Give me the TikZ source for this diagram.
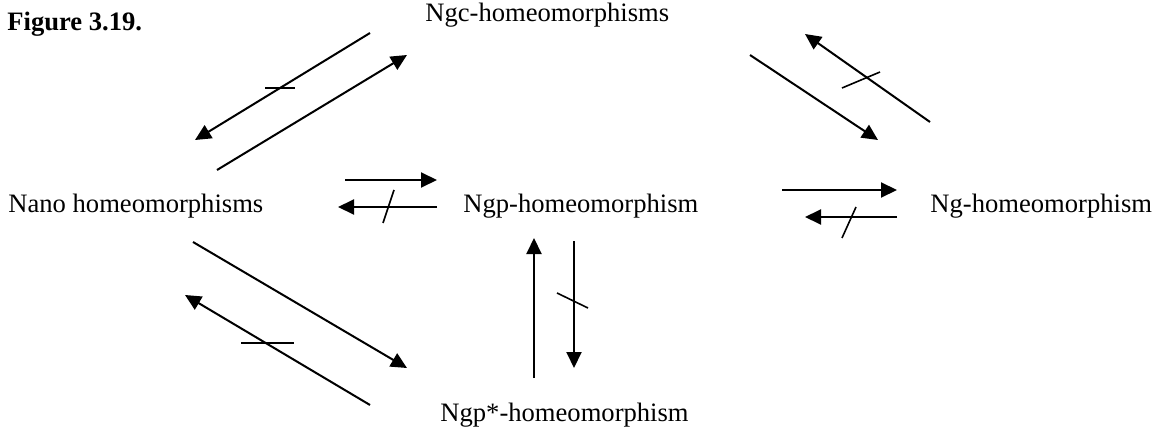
\documentclass[tikz,border=0pt]{standalone}
\usepackage{fontspec}
\setmainfont{Liberation Serif}
\usetikzlibrary{arrows.meta}
\begin{document}
\begin{tikzpicture}[x=0.5pt,y=-0.5pt,
  lbl/.style={inner sep=0pt,anchor=base west,font=\fontsize{13.3}{16}\selectfont},
  arr/.style={line width=1pt,-{Triangle[length=8pt,width=7.5pt]}},
  tick/.style={line width=0.8pt}]
\useasboundingbox (0,0) rectangle (1157,433);
% labels
\node[lbl,font=\fontsize{13.3}{16}\selectfont\bfseries] (fig) at (7,31) {Figure 3.19.};
\node[lbl] (nano) at (8,213) {Nano homeomorphisms};
\node[lbl] (ngc) at (425,22) {Ngc-homeomorphisms};
\node[lbl] (ngp) at (463,213) {Ngp-homeomorphism};
\node[lbl] (ng) at (930,213) {Ng-homeomorphism};
\node[lbl] (ngps) at (440,421) {Ngp*-homeomorphism};
% arrow end coordinates
\coordinate (a1s) at (370,33);  \coordinate (a1e) at (195,140);
\coordinate (a2s) at (217,170); \coordinate (a2e) at (407,55);
\coordinate (a3s) at (345,180); \coordinate (a3e) at (437,180);
\coordinate (a4s) at (437,207); \coordinate (a4e) at (338,207);
\coordinate (a5s) at (930,122); \coordinate (a5e) at (805,34);
\coordinate (a6s) at (750,55);  \coordinate (a6e) at (878,140);
\coordinate (a7s) at (782,190); \coordinate (a7e) at (897,190);
\coordinate (a8s) at (897,217); \coordinate (a8e) at (805,217);
\coordinate (a9s) at (534,378); \coordinate (a9e) at (534,238);
\coordinate (a10s) at (574,241); \coordinate (a10e) at (574,368);
\coordinate (a11s) at (193,242); \coordinate (a11e) at (407,368);
\coordinate (a12s) at (370,405); \coordinate (a12e) at (185,295);
% arrows
\foreach \i in {1,...,12} \draw[arr] (a\i s) -- (a\i e);
% negation ticks
\draw[tick] (265,88) -- (295,88);
\draw[tick] (394,190) -- (383,223);
\draw[tick] (842,88) -- (880,72);
\draw[tick] (856,207) -- (842,238);
\draw[tick] (557,293) -- (588,308);
\draw[tick] (241,343) -- (294,343);
\end{tikzpicture}
\end{document}
